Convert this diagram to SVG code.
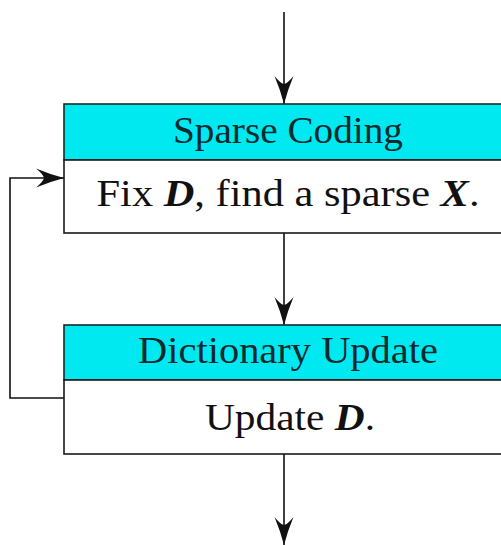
<svg xmlns="http://www.w3.org/2000/svg" width="501" height="545" viewBox="0 0 501 545">
<style>
.hdr{fill:#00e8f0;stroke:#1a2a2a;stroke-width:1.6}
.body{fill:#ffffff;stroke:#1a1a1a;stroke-width:1.6}
.t{font-family:"Liberation Serif","DejaVu Serif",serif;font-size:38px;text-anchor:middle}
.th{fill:#0a2a2e}
.tb{fill:#111111}
.m{font-weight:bold;font-style:italic}
.ln{fill:none;stroke:#111;stroke-width:1.6}
</style>
<defs>
<marker id="ah" markerUnits="userSpaceOnUse" viewBox="-30 -11 32 22" refX="0" refY="0" markerWidth="32" markerHeight="22" orient="auto">
<path d="M0,0 Q-15,-4 -28,-9.5 Q-21,-4 -20,0 Q-21,4 -28,9.5 Q-15,4 0,0 Z" fill="#111"/>
</marker>
</defs>
<rect width="501" height="545" fill="#ffffff"/>
<g id="connectors">
<line class="ln" x1="284" y1="12" x2="284" y2="104" marker-end="url(#ah)"/>
<line class="ln" x1="284" y1="233" x2="284" y2="325" marker-end="url(#ah)"/>
<line class="ln" x1="284" y1="454" x2="284" y2="545" marker-end="url(#ah)"/>
<polyline class="ln" points="64,398 10,398 10,178 64,178" marker-end="url(#ah)"/>
</g>
<g id="sparse-coding">
<rect class="hdr" x="64" y="104" width="440" height="56"/>
<rect class="body" x="64" y="160" width="440" height="73"/>
<text class="t th" x="288" y="143" textLength="230" lengthAdjust="spacingAndGlyphs">Sparse Coding</text>
<text class="t tb" x="288" y="206" textLength="383" lengthAdjust="spacingAndGlyphs">Fix <tspan class="m">D</tspan>, find a sparse <tspan class="m">X</tspan>.</text>
</g>
<g id="dictionary-update">
<rect class="hdr" x="64" y="325" width="440" height="55"/>
<rect class="body" x="64" y="380" width="440" height="74"/>
<text class="t th" x="288" y="363" textLength="300" lengthAdjust="spacingAndGlyphs">Dictionary Update</text>
<text class="t tb" x="290" y="430" textLength="170" lengthAdjust="spacingAndGlyphs">Update <tspan class="m">D</tspan>.</text>
</g>
</svg>
